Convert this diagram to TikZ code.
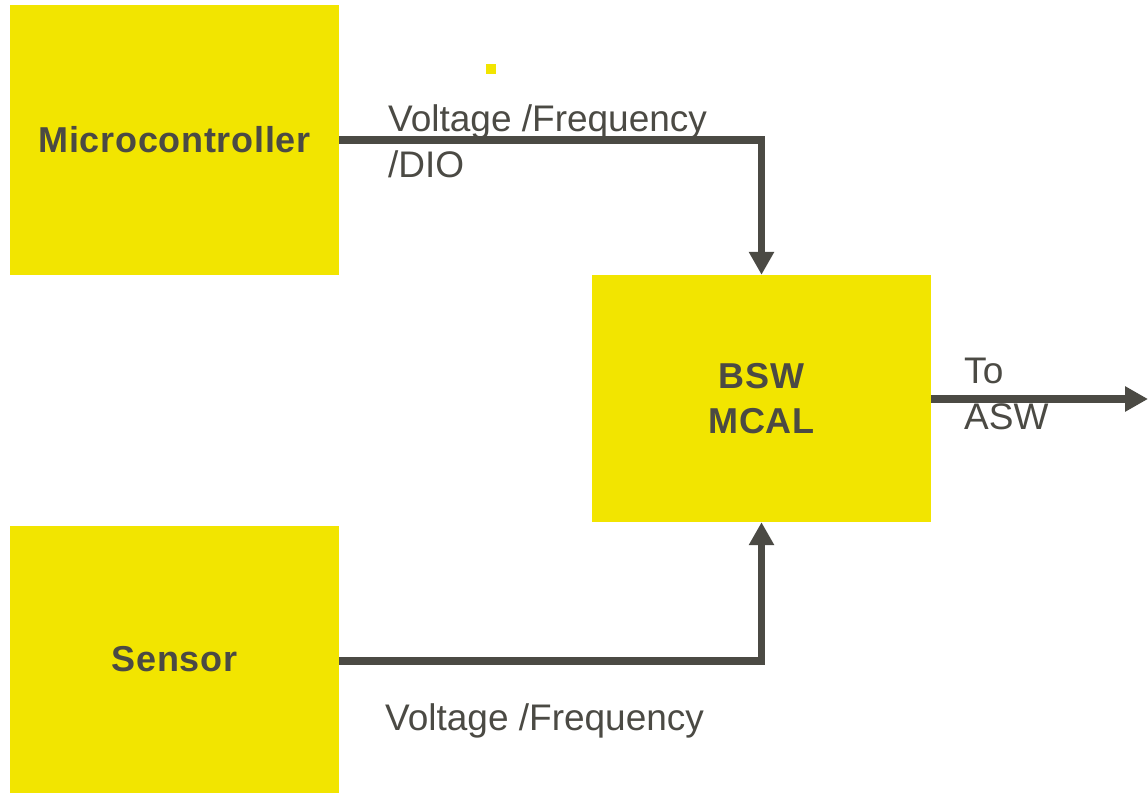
\documentclass[tikz,border=0pt]{standalone}
\usepackage{fontspec}
\setmainfont{Liberation Sans}
\newfontfamily\lblfont{Liberation Sans}
\newfontfamily\boxfont[LetterSpace=2]{Liberation Sans Bold}
\usetikzlibrary{arrows.meta}
\definecolor{boxyellow}{HTML}{F2E500}
\definecolor{linegray}{HTML}{4B4A44}
\tikzset{
  blockbox/.style={fill=boxyellow, draw=none, inner sep=0pt, align=center,
    font=\boxfont\fontsize{36}{45}\selectfont, text=linegray},
  conn/.style={draw=linegray, line width=7.5pt, -{Triangle[width=24pt,length=23pt]}},
  lbl/.style={font=\lblfont\fontsize{37}{46}\selectfont, text=linegray, inner sep=0pt, anchor=base west, align=left}
}
\begin{document}
\begin{tikzpicture}[x=1pt,y=-1pt]
\useasboundingbox (0,0) rectangle (1148,793);
\node[blockbox, minimum width=329pt, minimum height=270pt] (mc) at (174.5,140) {Microcontroller};
\node[blockbox, minimum width=329pt, minimum height=267pt] (sen) at (174.5,659.5) {Sensor};
\node[blockbox, minimum width=339pt, minimum height=247pt] (bsw) at (761.5,398.5) {BSW\\MCAL};
\fill[boxyellow] (486,64) rectangle (496,74);
\coordinate (out) at (1148,399);
\draw[conn] (mc.east) -- (bsw.north |- mc.east) -- (bsw.north);
\draw[conn] (sen.east |- 0,661) -- (bsw.south |- 0,661) -- (bsw.south);
\draw[conn] (bsw.east |- out) -- (out);
\node[lbl] (l1) at (388,177) {Voltage /Frequency\\/DIO};
\node[lbl] (l2) at (385,730) {Voltage /Frequency};
\node[lbl] (l3) at (964,429) {To\\ASW};
\end{tikzpicture}
\end{document}
